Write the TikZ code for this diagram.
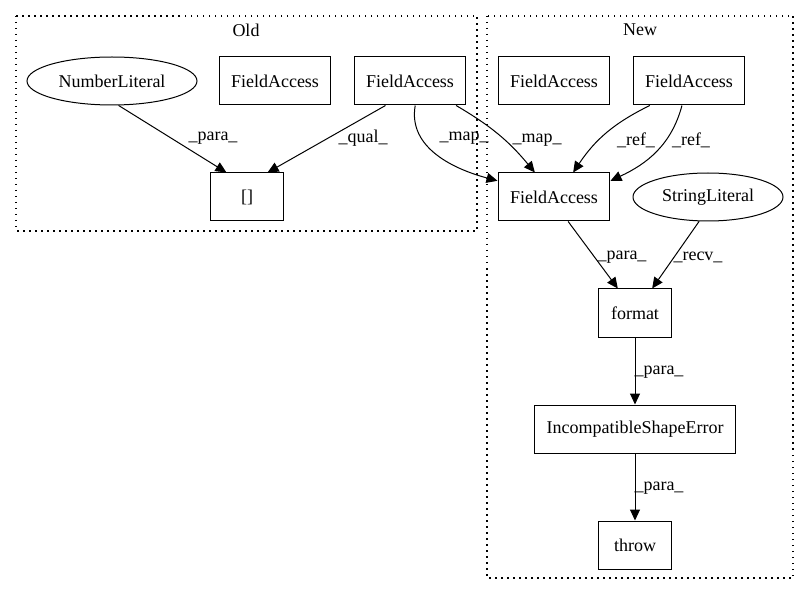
\documentclass[tikz,border=0pt]{standalone}
\usepackage{fontspec}
\setmainfont{Liberation Serif}
\usepackage{tikz}
\usetikzlibrary{shapes.geometric}
\usetikzlibrary{arrows.meta}

\tikzset{
	gvbox/.style={draw,line width=1pt,rectangle,minimum width=73pt,minimum height=48pt,inner xsep=12pt,font=\fontsize{18}{20}\selectfont},
	gvoval/.style={draw,line width=1pt,ellipse,minimum height=48pt,inner xsep=6pt,font=\fontsize{18}{20}\selectfont},
	gvlbl/.style={inner sep=0pt,font=\fontsize{18}{20}\selectfont},
	gvedge/.style={line width=1pt,-{Triangle[length=11pt,width=10pt]}},
	gvcluster/.style={line width=1.2pt,dash pattern=on 1.5pt off 4.5pt}
}

\begin{document}
\begin{tikzpicture}[x=1pt,y=1pt]
			\useasboundingbox (0,0) rectangle (809,-596);
			
			\draw[gvcluster] (16,-16) rectangle (477,-231);
			\node[gvlbl] (TOld) at (246,-30) {Old};
			\node[gvoval,minimum width=170pt] (NL) at (112,-81) {NumberLiteral};
			\node[gvbox] (FAo1) at (275,-81) {FieldAccess};
			\node[gvbox] (FAo2) at (410,-81) {FieldAccess};
			\node[gvbox] (AR) at (247,-197) {[]};
			
			\draw[gvcluster] (487,-16) rectangle (793,-578);
			\node[gvlbl] (TNew) at (640,-30) {New};
			\node[gvbox] (FAn1) at (554,-81) {FieldAccess};
			\node[gvbox] (FAn2) at (689,-81) {FieldAccess};
			\node[gvbox] (FAm) at (554,-197) {FieldAccess};
			\node[gvoval,minimum width=150pt] (SL) at (708,-197) {StringLiteral};
			\node[gvbox] (FMT) at (635,-313) {format};
			\node[gvbox] (ISE) at (635,-429) {IncompatibleShapeError};
			\node[gvbox] (THR) at (635,-545) {throw};
			
			\draw[gvedge] (NL.-75) -- (AR.130);
			\draw[gvedge] (FAo2.-135) -- (AR.50);
			\draw[gvedge] (FAo2.-78) to[out=-100,in=165] (FAm.164);
			\draw[gvedge] (FAo2.-28) to[bend left=10] (FAm.128);
			\draw[gvedge] (FAn2.-148) to[bend right=15] (FAm.52);
			\draw[gvedge] (FAn2.-106) to[out=-105,in=25] (FAm.16);
			\draw[gvedge] (FAm.-60) -- (FMT.125);
			\draw[gvedge] (SL.-110) -- (FMT.55);
			\draw[gvedge] (FMT) -- (ISE);
			\draw[gvedge] (ISE) -- (THR);
			
			\node[gvlbl] (L1) at (213,-138) {\_para\_};
			\node[gvlbl] (L2) at (363,-138) {\_qual\_};
			\node[gvlbl] (L3) at (464,-138) {\_map\_};
			\node[gvlbl] (L4) at (537,-140) {\_map\_};
			\node[gvlbl] (L5) at (636,-140) {\_ref\_};
			\node[gvlbl] (L6) at (691,-140) {\_ref\_};
			\node[gvlbl] (L7) at (622,-257) {\_para\_};
			\node[gvlbl] (L8) at (698,-257) {\_recv\_};
			\node[gvlbl] (L9) at (659,-372) {\_para\_};
			\node[gvlbl] (L10) at (659,-488) {\_para\_};
			
		\end{tikzpicture}
\end{document}
